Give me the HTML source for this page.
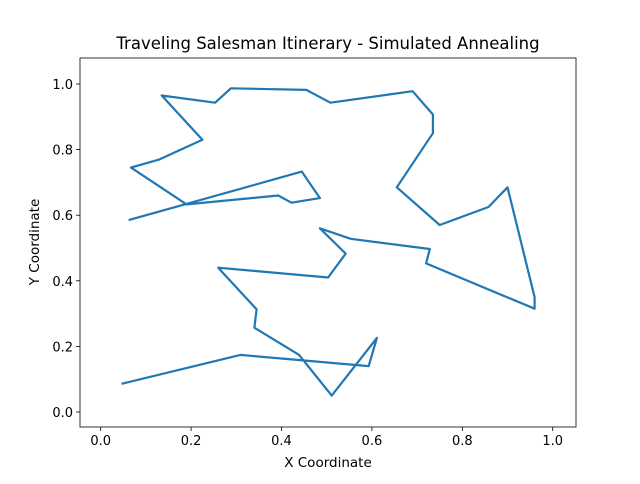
<!DOCTYPE html>
<html><head><meta charset="utf-8"><style>
body{margin:0;background:#fff;font-family:"DejaVu Sans","Liberation Sans",sans-serif}
</style></head><body>
<svg id="chart" width="640" height="480" xmlns="http://www.w3.org/2000/svg" font-family="DejaVu Sans, Liberation Sans, sans-serif">
<rect width="640" height="480" fill="#fff"/>
<text x="328" y="49" text-anchor="middle" font-size="16.5">Traveling Salesman Itinerary - Simulated Annealing</text>
<g id="plot"></g>
<text x="328" y="467" text-anchor="middle" font-size="13.5">X Coordinate</text>
<text transform="translate(39,242) rotate(-90)" text-anchor="middle" font-size="13.5">Y Coordinate</text>
</svg>
<script>
const routeX=[0.062,0.445,0.485,0.422,0.393,0.19,0.067,0.13,0.225,0.135,0.253,0.288,0.455,0.508,0.69,0.735,0.735,0.655,0.75,0.858,0.9,0.96,0.96,0.72,0.728,0.553,0.485,0.542,0.503,0.26,0.345,0.34,0.439,0.511,0.611,0.593,0.309,0.046];
const routeY=[0.585,0.733,0.652,0.638,0.66,0.633,0.745,0.77,0.83,0.965,0.943,0.987,0.982,0.943,0.978,0.907,0.85,0.685,0.57,0.625,0.685,0.35,0.315,0.453,0.497,0.528,0.56,0.483,0.41,0.44,0.313,0.257,0.174,0.05,0.226,0.14,0.174,0.086];
const xTicks=["0.0","0.2","0.4","0.6","0.8","1.0"];
const yTicks=["0.0","0.2","0.4","0.6","0.8","1.0"];
const L=80,R=576,T=58,B=427;
const sx=v=>100.7+v*452;
const sy=v=>412-v*328;
const NS="http://www.w3.org/2000/svg";
const g=document.getElementById('plot');
function mk(t,a){const e=document.createElementNS(NS,t);for(const k in a)e.setAttribute(k,a[k]);g.appendChild(e);return e;}
const pts=routeX.map((x,i)=>sx(x).toFixed(1)+','+sy(routeY[i]).toFixed(1)).join(' ');
const line=mk('polyline',{points:pts,fill:'none',stroke:'#1f77b4','stroke-width':2.2,'stroke-linejoin':'round'});


xTicks.forEach(t=>{const x=sx(parseFloat(t));
 mk('line',{x1:x,x2:x,y1:B,y2:B+4,stroke:'#000','stroke-width':0.8});
 const tx=mk('text',{x:x,y:B+18,'text-anchor':'middle','font-size':13});tx.textContent=t;
 
 
});
yTicks.forEach(t=>{const y=sy(parseFloat(t));
 mk('line',{x1:L-4,x2:L,y1:y,y2:y,stroke:'#000','stroke-width':0.8});
 const tx=mk('text',{x:L-7,y:y+5,'text-anchor':'end','font-size':13});tx.textContent=t;
 
 
});
const fr=mk('rect',{x:L,y:T,width:R-L,height:B-T,fill:'none',stroke:'#000','stroke-width':0.8});


</script>
</body></html>
